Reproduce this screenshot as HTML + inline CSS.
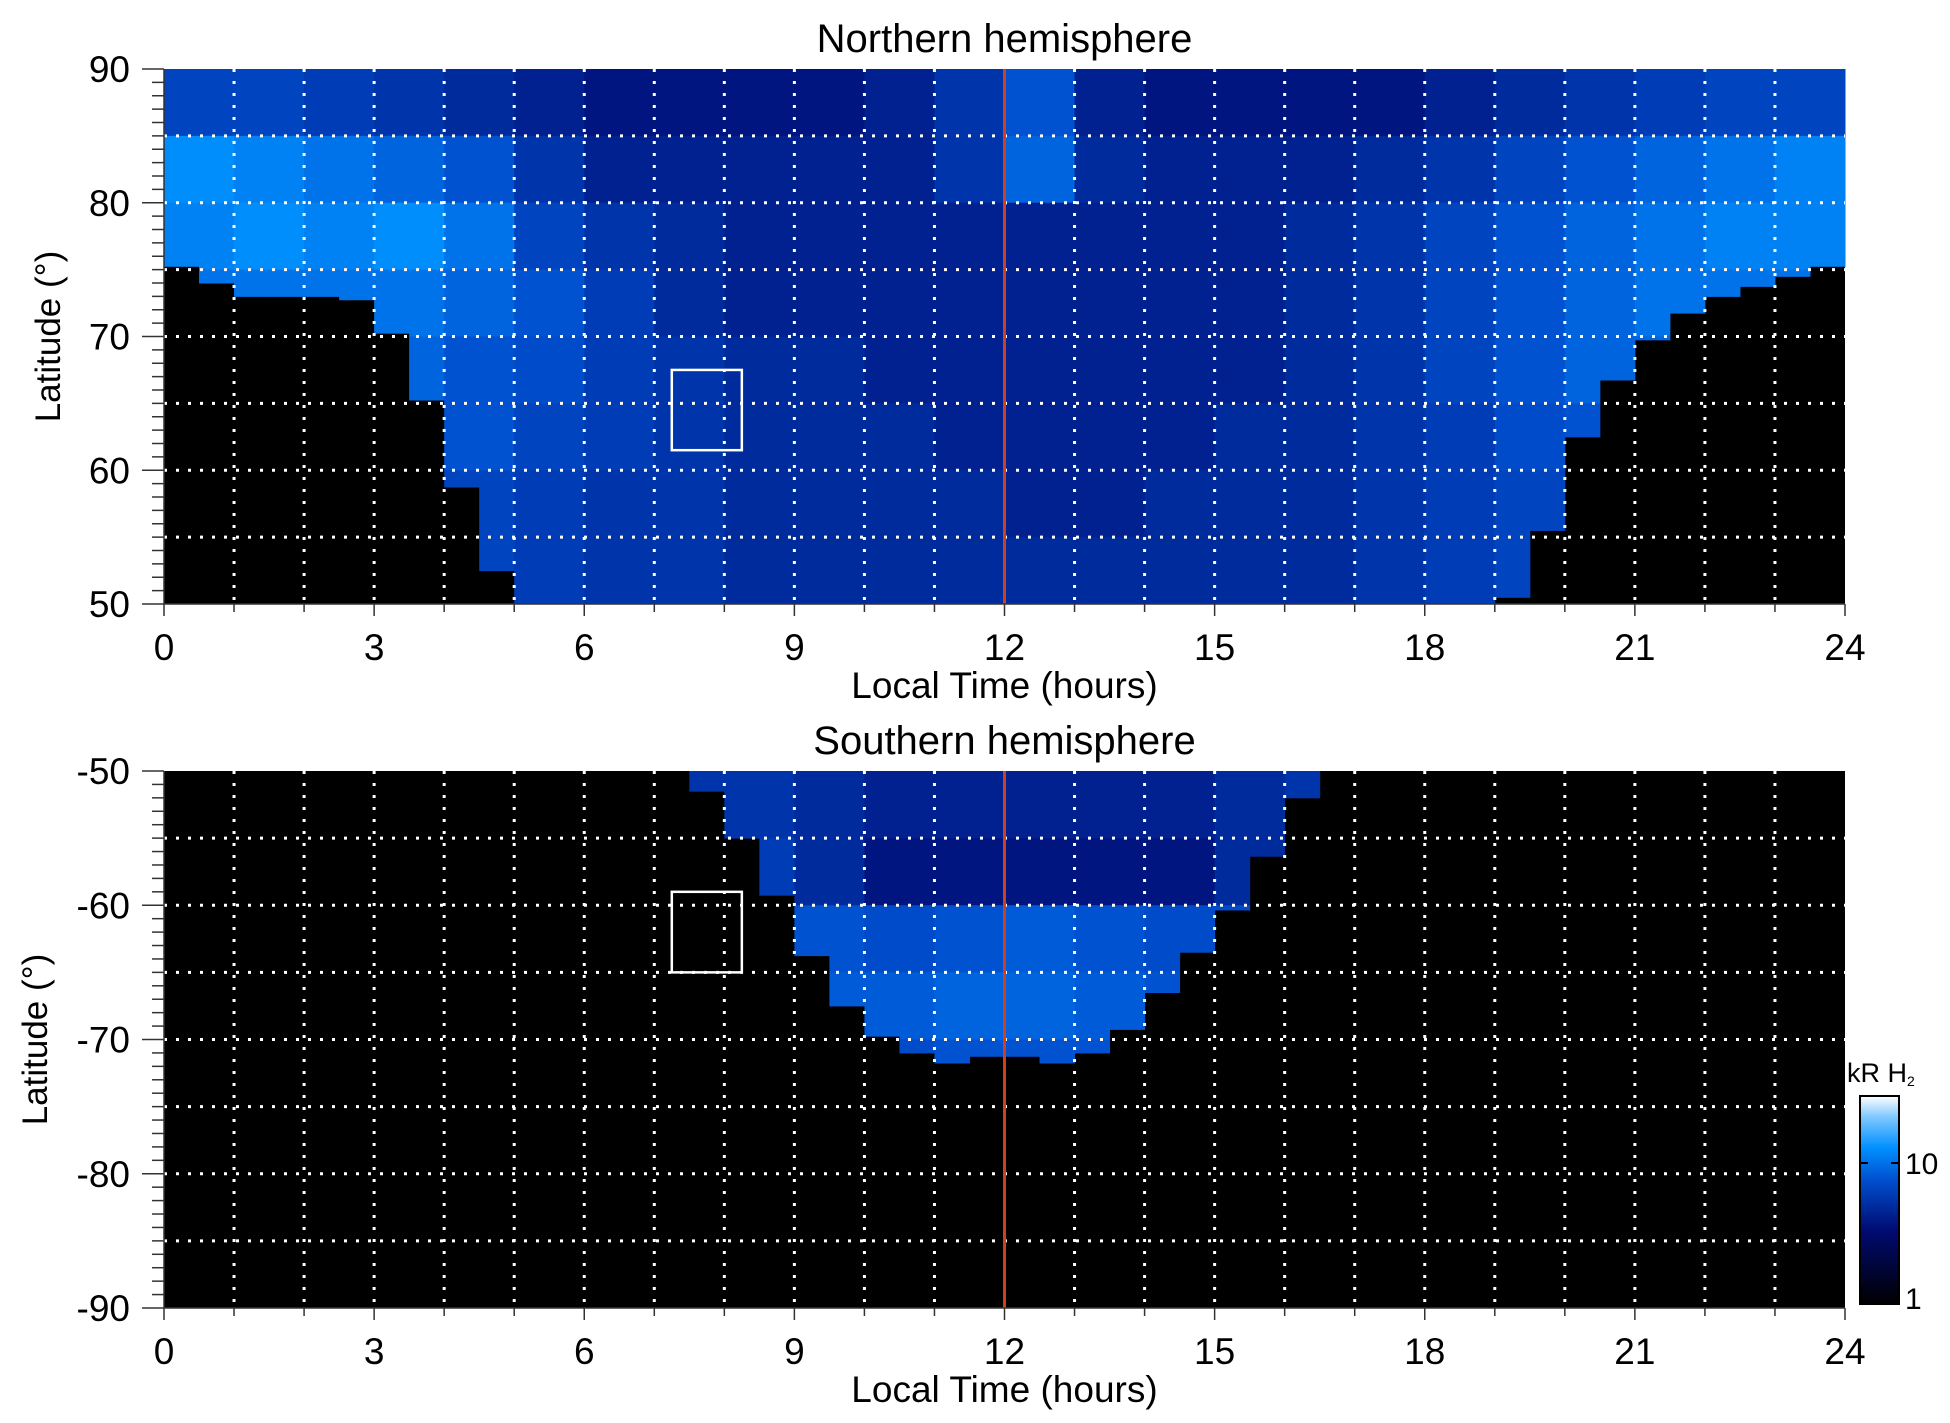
<!DOCTYPE html>
<html><head><meta charset="utf-8"><style>
html,body{margin:0;padding:0;background:#fff;}
svg{display:block;font-family:"Liberation Sans",sans-serif;}
</style></head><body>
<svg id="fig" width="1950" height="1423" viewBox="0 0 1950 1423">
<defs>
<linearGradient id="cbg" x1="0" y1="1" x2="0" y2="0">
<stop offset="0" stop-color="#000000"/><stop offset="0.35" stop-color="#000a70"/><stop offset="0.6" stop-color="#0050d0"/><stop offset="0.75" stop-color="#0090ff"/><stop offset="0.9" stop-color="#80c8ff"/><stop offset="1" stop-color="#ffffff"/>
</linearGradient>
</defs>
<g id="north"></g>
<g id="south"></g>
<g id="cbar">
<rect x="1860" y="1096" width="39" height="208" fill="url(#cbg)" stroke="#000" stroke-width="2"/>
<text x="1847" y="1082" font-size="27">kR H<tspan font-size="14" dy="4">2</tspan></text>
<text x="1905" y="1174" font-size="30">10</text>
<text x="1905" y="1309" font-size="30">1</text>
<line x1="1860" y1="1163" x2="1868" y2="1163" stroke="#000" stroke-width="2"/>
<line x1="1899" y1="1163" x2="1891" y2="1163" stroke="#000" stroke-width="2"/>
</g>
</svg>
<script>
// Data
const hours = [0,1,2,3,4,5,6,7,8,9,10,11,12,13,14,15,16,17,18,19,20,21,22,23];
const xTicks = [0,3,6,9,12,15,18,21,24];
const northYTicks = [50,60,70,80,90];
const southYTicks = [-90,-80,-70,-60,-50];
// lower latitude limit of northern coverage at LT 0,0.5,...,24
const northEdge = [75.5,75,73,73,73,73,72.5,68,62.5,55,50,50,50,50,50,50,50,50,50,50,50,50,50,50,50,50,50,50,50,50,50,50,50,50,50,50,50,50,50,51,60,65,68.5,71,72.5,73.5,74,75,75.5];
// equatorward limit of southern coverage (null = no data) at LT 0,0.5,...,24
const southEdge = [null,null,null,null,null,null,null,null,null,null,null,null,null,null,null,-50,-53,-57,-61.5,-66,-69,-70.5,-71.5,-72,-70.5,-72,-71.5,-70.5,-68,-65,-62,-58.7,-54,-50,null,null,null,null,null,null,null,null,null,null,null,null,null,null,null];
// northern brightness (kR) per 5-degree band (top: 85-90) per LT hour
const northBand85 = [6,6,5.5,5,4.5,4,3.5,3.5,3.5,3.5,4,5,7,4,3.5,3.5,3.5,3.5,4,4.5,5,5.5,6,6];
const northBand80 = [11,10,9,8,7,5,4,4,4,4,4,5,8,4.5,4,4,4,4.5,5,6,7,8,9,10];
const northBand75 = [10,11,10,11,9,6,5,4.5,4,4,4,4,4,4,4,4,4.5,5,6,7,8,9,10,10];
const northBand70 = [9,9,9,9,8,7,5.5,4.5,4,4,4,4,4,4,4,4,4.5,5,6,7,8,9,9,9];
const northBand65 = [8,8,8,8,7,6.5,5.5,5,4.5,4.5,4,4,4,4,4,4,4.5,5,6,7,8,8,8,8];
const northBand60 = [7,7,7,7,7,6,5.5,5,4.5,4.5,4.5,4,4,4,4,4.5,4.5,5,5.5,6.5,7,7,7,7];
const northBand55 = [6,6,6,6,6,5.5,5,5,4.5,4.5,4.5,4.5,4,4,4.5,4.5,4.5,5,5.5,6,6,6,6,6];
const northBand50 = [6,6,6,6,6,5.5,5,5,4.5,4.5,4.5,4.5,4.5,4.5,4.5,4.5,4.5,5,5.5,6,6,6,6,6];
// southern brightness (top: -50..-55)
const southBand50 = [0,0,0,0,0,0,0,5,5,4.5,4,4,4,4,4,4.5,5,0,0,0,0,0,0,0];
const southBand55 = [0,0,0,0,0,0,0,5.5,5.5,4.5,3.5,3.5,3.5,3.5,3.5,4.5,5.5,0,0,0,0,0,0,0];
const southBand60 = [0,0,0,0,0,0,0,6,6.5,7,6.5,7,7.5,7,6.5,6.5,6,0,0,0,0,0,0,0];
const southBand65 = [0,0,0,0,0,0,0,6.5,7,7.5,7.5,8,8,7.5,7,6.5,6.5,0,0,0,0,0,0,0];
const southBand70 = [0,0,0,0,0,0,0,6,6.5,6.5,6.5,7,7,7,6.5,6.5,6,0,0,0,0,0,0,0];

const NS='http://www.w3.org/2000/svg';
const X0=164, X1=1845;
const x = lt => X0 + lt*(X1-X0)/24;
const P = {north:{top:69,bot:604,hi:90,lo:50}, south:{top:771,bot:1308,hi:-50,lo:-90}};
const yf = p => lat => p.top + (p.hi-lat)*(p.bot-p.top)/(p.hi-p.lo);

function col(v){
  if(!v||v<=1) return '#000';
  let t=Math.min(1,Math.log(v)/Math.log(25));
  const st=[[0,0,0,0],[0.35,0,10,112],[0.6,0,80,208],[0.75,0,144,255],[0.9,128,200,255],[1,255,255,255]];
  for(let i=1;i<st.length;i++){ if(t<=st[i][0]){const a=st[i-1],b=st[i],f=(t-a[0])/(b[0]-a[0]);
    return 'rgb('+[1,2,3].map(k=>Math.round(a[k]+f*(b[k]-a[k]))).join(',')+')';}}
  return '#fff';
}
function mk(tag,attrs,parent){const e=document.createElementNS(NS,tag);for(const k in attrs)e.setAttribute(k,attrs[k]);parent.appendChild(e);return e;}

function panel(g,p,bands,bandTops,edge,isNorth,yTicks,title,boxLat){
  const y=yf(p);
  const bg=mk('rect',{x:X0,y:p.top,width:X1-X0,height:p.bot-p.top,fill:'#000'},g);
  
  
  const cells=mk('g',{},g);
  
  
  for(let i=0;i<48;i++){
    const e0=edge[i],e1=edge[i+1];
    if(e0===null||e1===null) continue;
    const e=(e0+e1)/2, h=Math.floor(i/2);
    bands.forEach((b,j)=>{
      let top=bandTops[j], bot=Math.max(top-5,e);
      if(bot>=top) return;
      const r=mk('rect',{x:x(i/2),y:y(top),width:x((i+1)/2)-x(i/2)+0.5,height:y(bot)-y(top)+0.5,fill:col(b[h])},cells);
      
      
    });
  }
  for(let hh=1;hh<24;hh++){
    const l=mk('line',{x1:x(hh),x2:x(hh),y1:p.top,y2:p.bot,stroke:'#fff','stroke-width':3,'stroke-dasharray':'3 9'},g);
    
    
  }
  for(let lat=p.lo+5;lat<p.hi;lat+=5){
    const l=mk('line',{x1:X0,x2:X1,y1:y(lat),y2:y(lat),stroke:'#fff','stroke-width':3,'stroke-dasharray':'3 9'},g);
    
    
  }
  const rl=mk('line',{x1:x(12),x2:x(12),y1:p.top,y2:p.bot,stroke:'#d0401a','stroke-width':3},g);
  
  
  const bx=mk('rect',{x:x(7.25),y:y(boxLat[0]),width:x(8.25)-x(7.25),height:y(boxLat[1])-y(boxLat[0]),fill:'none',stroke:'#fff','stroke-width':2.5},g);
  
  
  const ax=mk('g',{stroke:'#333','stroke-width':1.5},g);
  
  
  mk('line',{x1:X0,x2:X0,y1:p.top,y2:p.bot},ax);
  mk('line',{x1:X0,x2:X1,y1:p.bot,y2:p.bot},ax);
  for(let lat=p.lo;lat<=p.hi;lat++){
    const len=(lat%10===0)?22:12;
    mk('line',{x1:X0-len,x2:X0,y1:y(lat),y2:y(lat)},ax);
  }
  for(let hh=0;hh<=24;hh++){
    mk('line',{x1:x(hh),x2:x(hh),y1:p.bot,y2:p.bot+(hh%3===0?12:8)},ax);
  }
  yTicks.forEach(v=>{
    const t=mk('text',{x:X0-34,y:y(v)+13,'font-size':37,'text-anchor':'end'},g);
    t.textContent=v;
    
    
  });
  xTicks.forEach(v=>{
    const t=mk('text',{x:x(v),y:p.bot+56,'font-size':37,'text-anchor':'middle'},g);
    t.textContent=v;
    
    
  });
  const xt=mk('text',{x:x(12),y:p.bot+94,'font-size':37,'text-anchor':'middle'},g);
  xt.textContent='Local Time (hours)';
  
  
  const cy=(p.top+p.bot)/2;
  const yt=mk('text',{x:0,y:0,'font-size':35,'text-anchor':'middle',transform:'translate('+(isNorth?60:47)+','+cy+') rotate(-90)'},g);
  yt.textContent='Latitude (°)';
  
  
  const tt=mk('text',{x:x(12),y:p.top-17,'font-size':40,'text-anchor':'middle'},g);
  tt.textContent=title;
  
  
}
panel(document.getElementById('north'),P.north,
  [northBand85,northBand80,northBand75,northBand70,northBand65,northBand60,northBand55,northBand50],
  [90,85,80,75,70,65,60,55],northEdge,true,northYTicks,'Northern hemisphere',[67.5,61.5]);
panel(document.getElementById('south'),P.south,
  [southBand50,southBand55,southBand60,southBand65,southBand70],
  [-50,-55,-60,-65,-70],southEdge,false,southYTicks,'Southern hemisphere',[-59,-65]);
</script>
</body></html>
